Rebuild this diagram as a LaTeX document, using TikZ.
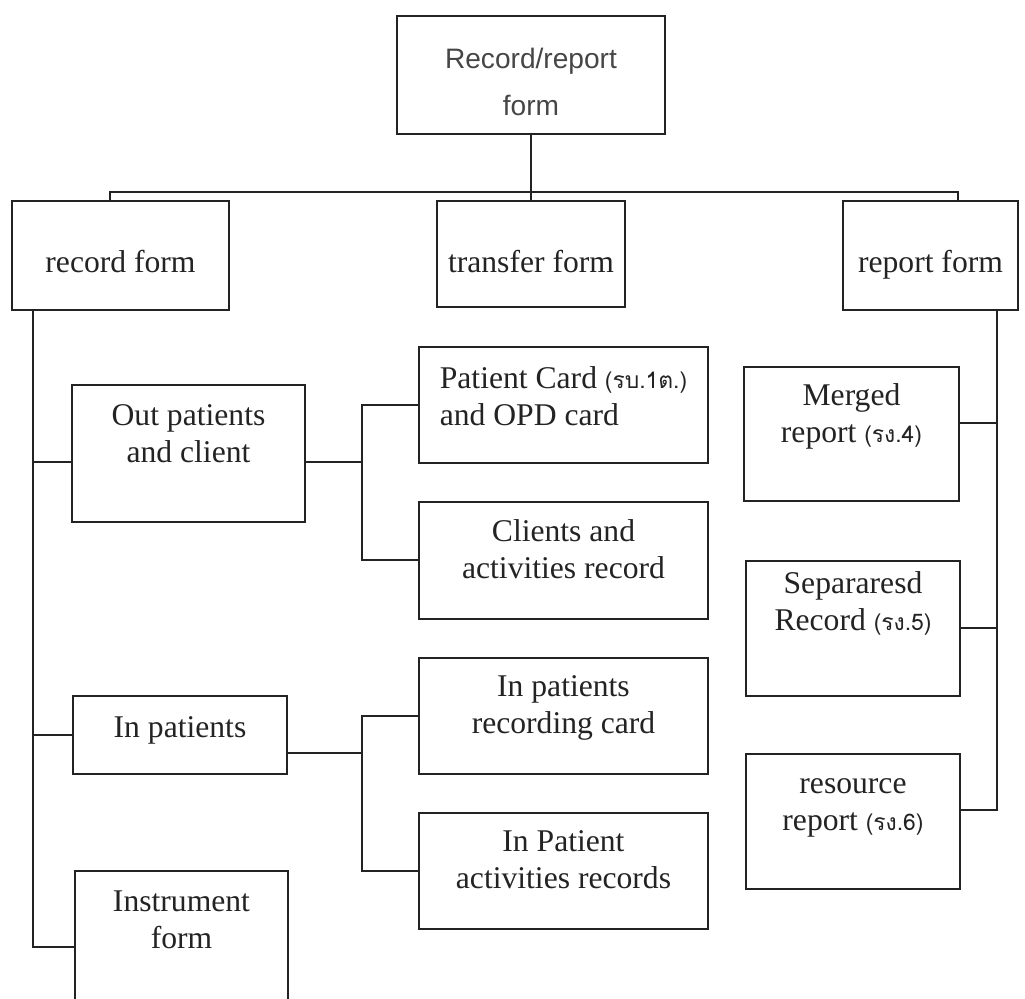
\documentclass[tikz,border=0pt]{standalone}
\usepackage{fontspec}
\setmainfont{Liberation Serif}
\newfontfamily\headfont{Liberation Sans}
\newfontfamily\thaifont[Script=Thai]{Loma}
\usetikzlibrary{positioning}
\definecolor{inkgray}{RGB}{35, 35, 35}
\definecolor{headgray}{RGB}{70, 70, 70}
\newcommand{\formcode}[1]{{\thaifont\fontsize{13}{15}\selectfont(#1)}}

\begin{document}
\begin{tikzpicture}[
    x=0.02cm, y=-0.02cm,
    formbox/.style={
        rectangle, draw=inkgray, line width=1pt, inner sep=0pt,
        align=center, text=inkgray, anchor=north,
        font=\fontsize{18}{21}\selectfont
    },
    headbox/.style={
        formbox, text=headgray, font=\headfont\fontsize{16}{27}\selectfont
    },
    link/.style={draw=inkgray, line width=1pt}
]
    \useasboundingbox (0,0) rectangle (1025,999);

    % top and second level
    \node [headbox, minimum width=5.36cm, text height=2.0cm, text depth=0.36cm] (main) at (531,15) {Record/report\\form};
    \node [formbox, minimum width=4.34cm, text height=1.44cm, text depth=0.74cm] (rec) at (120.5,200) {record form};
    \node [formbox, minimum width=3.76cm, text height=1.44cm, text depth=0.68cm] (trf) at (531,200) {transfer form};
    \node [formbox, minimum width=3.5cm, text height=1.44cm, text depth=0.74cm] (rep) at (930.5,200) {report form};

    % record form branch
    \node [formbox, minimum width=4.66cm, text height=1.56cm, text depth=1.18cm] (outp) at (188.5,384) {Out patients\\and client};
    \node [formbox, minimum width=4.28cm, text height=0.84cm, text depth=0.72cm] (inp) at (180,695) {In patients};
    \node [formbox, minimum width=4.26cm, text height=1.56cm, text depth=1.24cm] (instr) at (181.5,870) {Instrument\\form};

    \node [formbox, align=left, minimum width=5.78cm, text height=1.58cm, text depth=0.74cm] (pcard) at (563.5,346) {Patient Card \formcode{รบ.1ต.}\\and OPD card};
    \node [formbox, minimum width=5.78cm, text height=1.54cm, text depth=0.80cm] (clients) at (563.5,501) {Clients and\\activities record};
    \node [formbox, minimum width=5.78cm, text height=1.52cm, text depth=0.80cm] (inrec) at (563.5,657) {In patients\\recording card};
    \node [formbox, minimum width=5.78cm, text height=1.52cm, text depth=0.80cm] (inact) at (563.5,812) {In Patient\\activities records};

    % report form branch
    \node [formbox, minimum width=4.3cm, text height=1.52cm, text depth=1.16cm] (merged) at (851.5,366) {Merged\\report \formcode{รง.4}};
    \node [formbox, minimum width=4.28cm, text height=1.40cm, text depth=1.30cm] (separ) at (853,560) {Separaresd\\Record \formcode{รง.5}};
    \node [formbox, minimum width=4.28cm, text height=1.54cm, text depth=1.16cm] (resource) at (853,753) {resource\\report \formcode{รง.6}};

    \coordinate (busL) at (110,192);
    \coordinate (busR) at (958,192);
    \coordinate (lspine) at (33,947);
    \coordinate (outj) at (33,462);
    \coordinate (outb) at (362,462);
    \coordinate (inb) at (362,753);
    \coordinate (rspine) at (997,810);
    \coordinate (mj) at (997,423);

    \draw [link] (main.south) -- (trf.north);
    \draw [link] (rec.north -| busL) -- (busL) -- (busR) -- (busR |- rep.north);

    \draw [link] (rec.south -| lspine) -- (lspine) -- (instr.west |- lspine);
    \draw [link] (outj) -- (outp.west |- outj);
    \draw [link] (lspine |- inp.west) -- (inp.west);

    \draw [link] (outp.east |- outb) -- (outb);
    \draw [link] (pcard.west) -- (pcard.west -| outb) -- (clients.west -| outb) -- (clients.west);
    \draw [link] (inp.east |- inb) -- (inb);
    \draw [link] (inrec.west) -- (inrec.west -| inb) -- (inact.west -| inb) -- (inact.west);

    \draw [link] (rep.south -| rspine) -- (rspine) -- (resource.east |- rspine);
    \draw [link] (mj) -- (merged.east |- mj);
    \draw [link] (rspine |- separ.east) -- (separ.east);
\end{tikzpicture}
\end{document}
